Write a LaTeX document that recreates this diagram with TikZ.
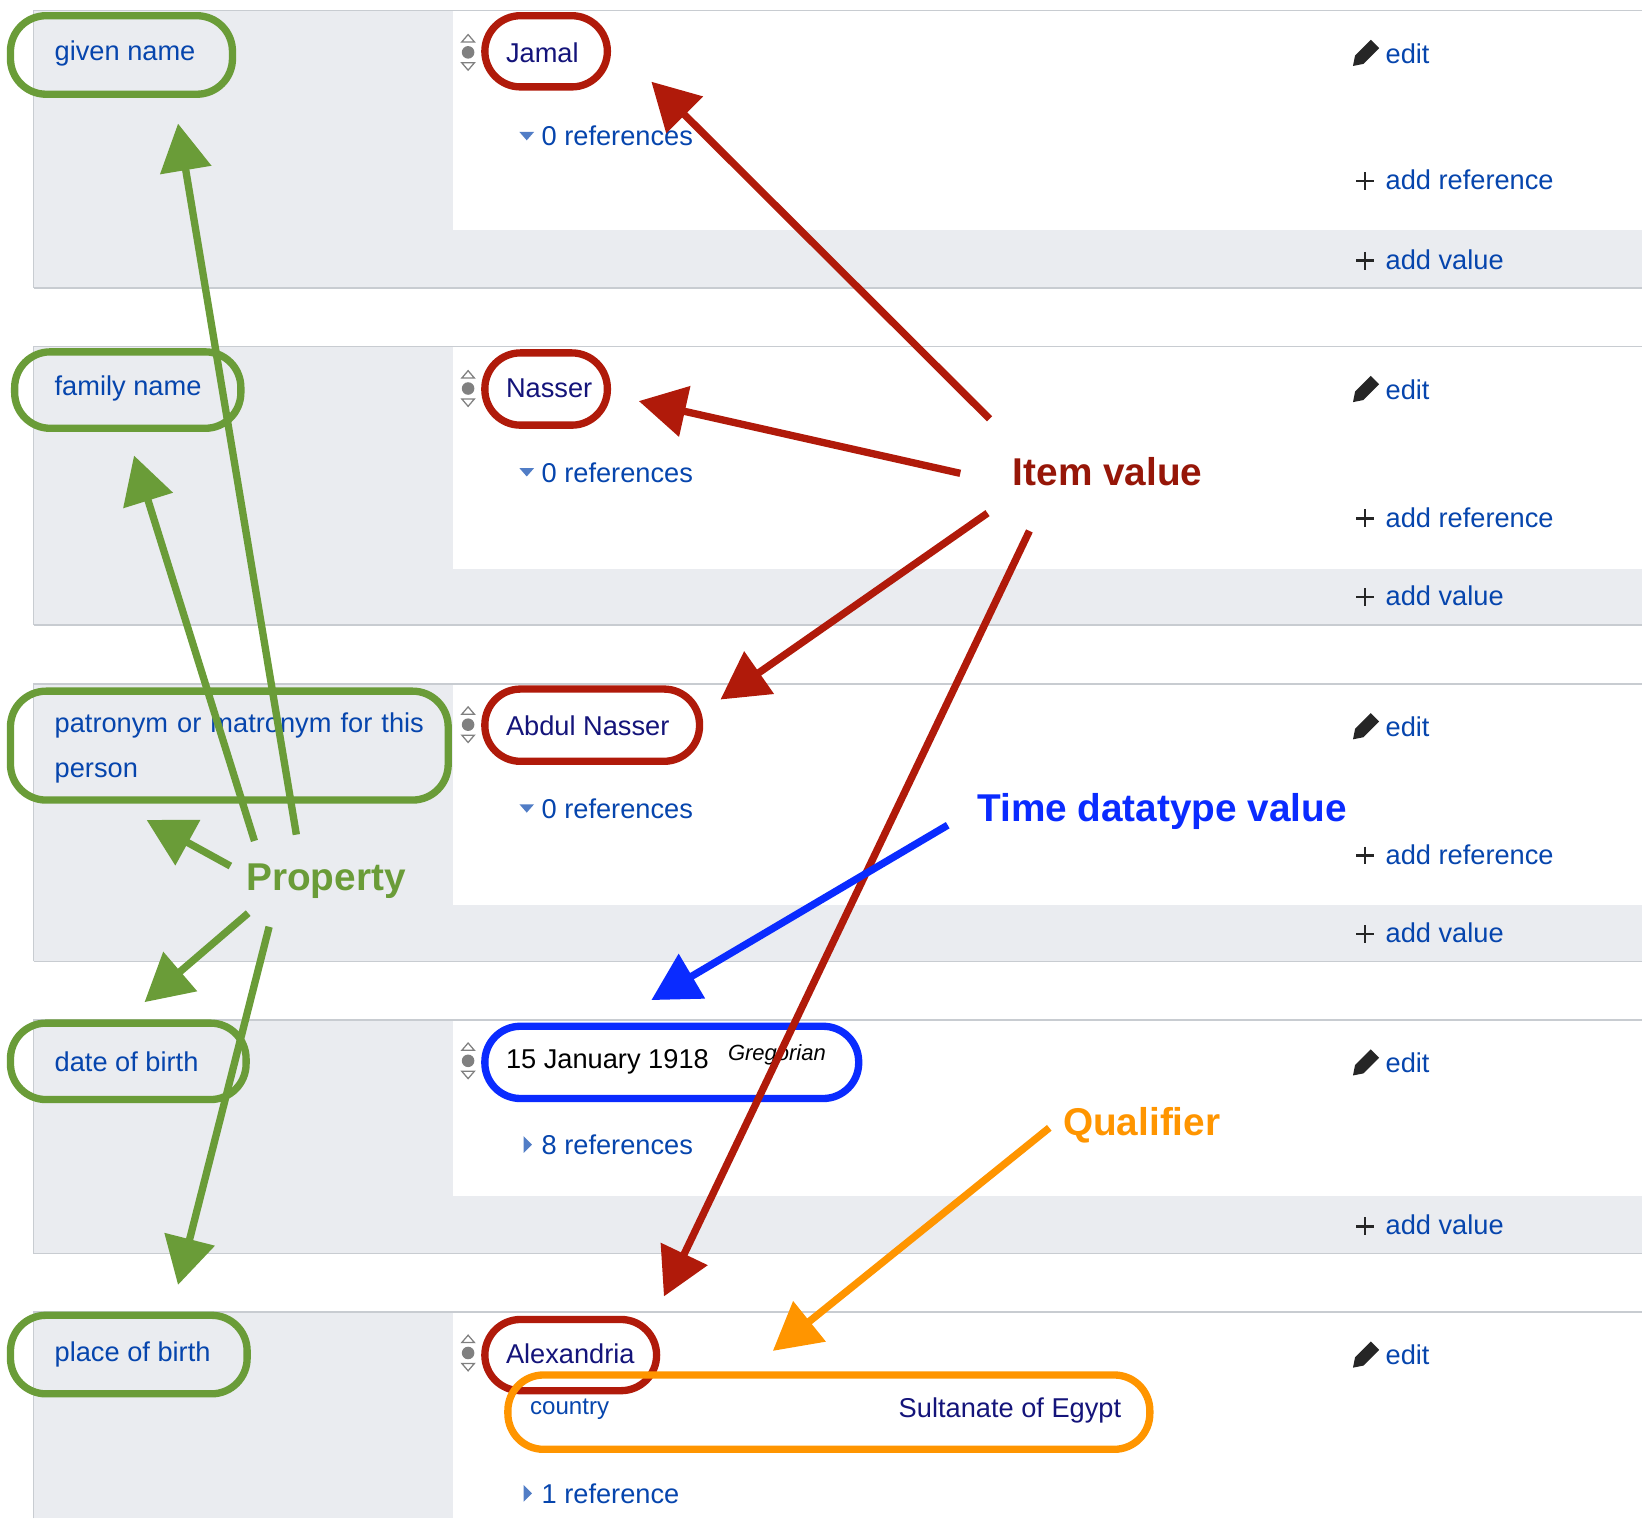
\documentclass[tikz,border=0pt]{standalone}
\usepackage{fontspec}
\setmainfont{Liberation Sans}
\usetikzlibrary{arrows.meta}
\definecolor{lnk}{HTML}{0645AD}
\definecolor{nv}{HTML}{14147A}
\definecolor{gr}{HTML}{6A9C38}
\definecolor{rd}{HTML}{B01A0A}
\definecolor{bl}{HTML}{0A2BFF}
\definecolor{og}{HTML}{FF9500}
\definecolor{pan}{HTML}{EAECF0}
\definecolor{bd}{HTML}{C8CCD1}
\begin{document}
\begin{tikzpicture}[x=1pt,y=-1pt,
 t/.style={anchor=west,inner sep=0pt,font=\fontsize{26}{30}\selectfont},
 lk/.style={t,text=lnk},
 vv/.style={t,text=nv},
 ov/.style={draw,line width=7pt,rounded corners=34pt},
 arr/.style={line width=7pt,-{Triangle[length=45pt,width=48pt]}},
 big/.style={anchor=west,inner sep=0pt,font=\bfseries\fontsize{37}{40}\selectfont}]
\useasboundingbox (0,0) rectangle (1568,1450);
% panels
\foreach \a/\b/\c in {10/275/220,331/597/543,653/918/864,974/1197/1142}{
 \fill[pan] (32,\a) rectangle (1568,\b);
 \fill[white] (433,\a) rectangle (1568,\c);
 \draw[bd,line width=1.5pt] (32,\b) -- (32,\a) -- (1568,\a);
 \draw[bd,line width=1.5pt] (32,\b) -- (1568,\b);
}
\fill[pan] (32,1253) rectangle (433,1450);
\draw[bd,line width=1.5pt] (32,1450) -- (32,1253) -- (1568,1253);
% sort icons
\foreach \y in {50,371,692,1013,1292}{
 \fill[gray] (447,\y) circle (6);
 \draw[gray,line width=1.2pt] (441,\y-10) -- (447,\y-17) -- (453,\y-10) -- cycle;
 \draw[gray,line width=1.2pt] (441,\y+10) -- (447,\y+17) -- (453,\y+10) -- cycle;
}
% left labels
\node[lk] (gn) at (52,51) {given name};
\node[lk] (fn) at (52,371) {family name};
\node[lk,align=left,text width=370pt,font=\fontsize{26}{43}\selectfont] (pn) at (52,714) {patronym or matronym for this person};
\node[lk] (db) at (52,1014) {date of birth};
\node[lk] (pb) at (52,1293) {place of birth};
% values
\node[vv] (jm) at (483,50) {Jamal};
\node[vv] (ns) at (483,371) {Nasser};
\node[vv] (an) at (483,693) {Abdul Nasser};
\node[t] (dt) at (483,1014) {15 January 1918};
\node[t,font=\itshape\fontsize{21}{24}\selectfont] (gg) at (695,1007) {Gregorian};
\node[vv] (al) at (483,1293) {Alexandria};
\node[lk,font=\fontsize{23}{26}\selectfont] (co) at (506,1346) {country};
\node[vv] (se) at (858,1347) {Sultanate of Egypt};
% references
\foreach \y/\s in {130/0 references,451/0 references,772/0 references}{
 \fill[lnk!70] (496,\y-4) -- (510,\y-4) -- (503,\y+4) -- cycle;
 \node[lk] at (517,\y) {\s};}
\foreach \y/\s in {1093/8 references,1426/1 reference}{
 \fill[lnk!70] (500,\y-8) -- (508,\y) -- (500,\y+8) -- cycle;
 \node[lk] at (517,\y) {\s};}
% edit
\foreach \y in {51,372,694,1015,1294}{
 \fill[black!85] (1292,\y+12) -- (1294,\y+2) -- (1309,\y-13) -- (1317,\y-5) -- (1302,\y+10) -- cycle;
 \node[lk] at (1323,\y) {edit};}
\foreach \y/\s in {172/add reference,248/add value,494/add reference,569/add value,816/add reference,891/add value,1170/add value}{
 \draw[black!85,line width=2.5pt] (1295,\y+1) -- (1312,\y+1) (1303.5,\y-7.5) -- (1303.5,\y+9.5);
 \node[lk] at (1323,\y) {\s};}
% ovals
\draw[ov,gr] (10,15) rectangle (222,90);
\draw[ov,gr] (14,336) rectangle (230,409);
\draw[ov,gr] (10,660) rectangle (428,764);
\draw[ov,gr] (10,977) rectangle (235,1050);
\draw[ov,gr] (10,1256) rectangle (236,1331);
\draw[ov,rd] (463,15) rectangle (580,83);
\draw[ov,rd] (463,337) rectangle (580,406);
\draw[ov,rd] (463,658) rectangle (668,727);
\draw[ov,rd] (463,1260) rectangle (627,1328);
\draw[ov,bl] (463,980) rectangle (820,1049);
\draw[ov,og] (485,1313) rectangle (1098,1384);
% labels
\node[big,text=gr] (pr) at (235,841) {Property};
\node[big,text=rd!85!black] (iv) at (967,450) {Item value};
\node[big,text=bl] (tv) at (933,775) {Time datatype value};
\node[big,text=og] (ql) at (1015,1075) {Qualifier};
% arrows
\coordinate (g1) at (283,797); \coordinate (g2) at (243,803); \coordinate (g3) at (220,827);
\coordinate (g4) at (237,872); \coordinate (g5) at (257,885);
\draw[arr,gr] (g1) -- (170,118);
\draw[arr,gr] (g2) -- (128,435);
\draw[arr,gr] (g3) -- (140,783);
\draw[arr,gr] (g4) -- (138,957);
\draw[arr,gr] (g5) -- (170,1227);
\coordinate (r1) at (945,400); \coordinate (r2) at (917,452); \coordinate (r3) at (943,490); \coordinate (r4) at (983,507);
\draw[arr,rd] (r1) -- (622,78);
\draw[arr,rd] (r2) -- (610,383);
\draw[arr,rd] (r3) -- (688,668);
\draw[arr,rd] (r4) -- (634,1238);
\coordinate (b1) at (905,788);
\draw[arr,bl] (b1) -- (622,955);
\coordinate (o1) at (1002,1077);
\draw[arr,og] (o1) -- (738,1290);
\end{tikzpicture}
\end{document}
